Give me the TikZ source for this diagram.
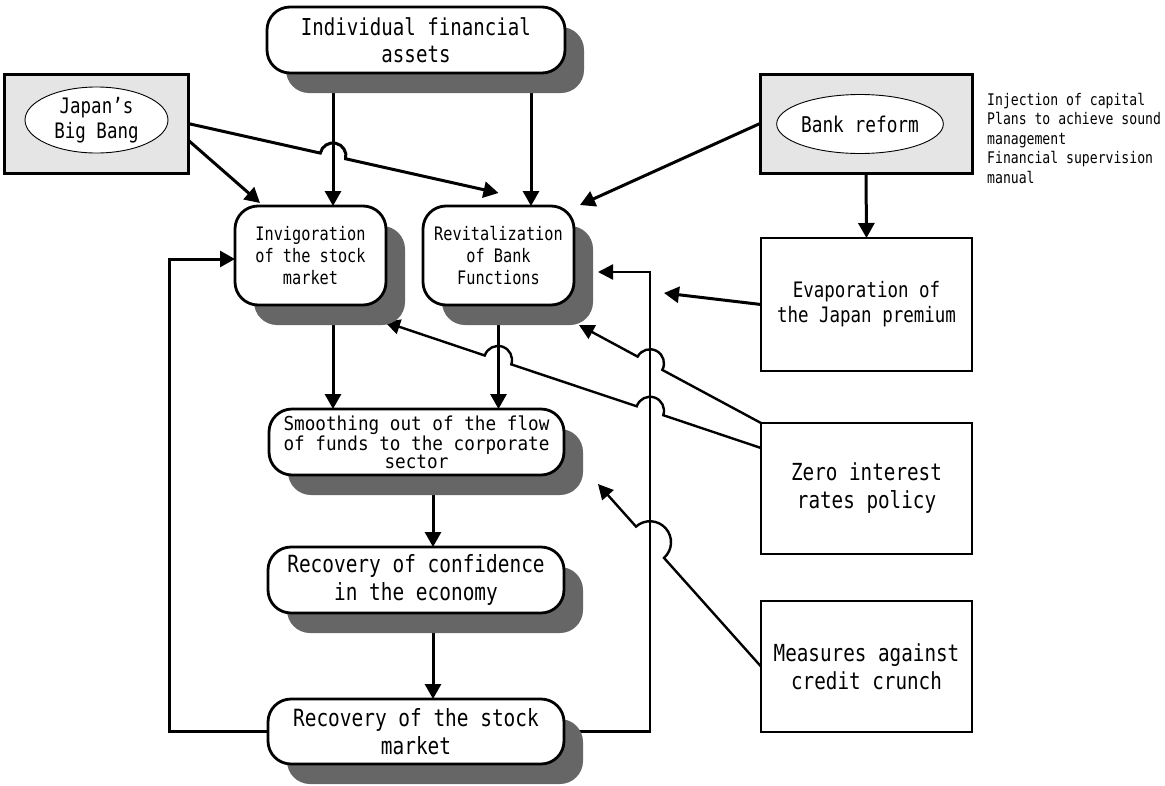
\documentclass[tikz,border=0pt]{standalone}
\usepackage{fontspec}
\usetikzlibrary{arrows.meta,shapes.geometric,shadows,backgrounds}
\newfontfamily\gothic[FakeStretch=0.82]{DejaVu Sans Mono}
\newfontfamily\gothicwide[FakeStretch=0.92]{DejaVu Sans Mono}
\definecolor{shadowgray}{RGB}{102,102,102}
\definecolor{panelgray}{RGB}{229,229,229}

\tikzset{
  flowbox/.style={draw, line width=2.8pt, fill=white, rounded corners=23pt,
    inner sep=0pt, outer sep=0pt, align=center,
    drop shadow={shadow xshift=19pt, shadow yshift=-20pt, opacity=1, fill=shadowgray}},
  plainbox/.style={draw, line width=2.8pt, fill=white, inner sep=0pt, outer sep=0pt, align=center},
  panel/.style={draw, line width=3pt, fill=panelgray, inner sep=0pt, outer sep=0pt},
  oval/.style={ellipse, draw, line width=0.9pt, fill=white, inner sep=0pt, outer sep=0pt, align=center},
  arr/.style={line width=3pt, -{Triangle[length=15pt,width=16pt]}},
  thinarr/.style={line width=2.4pt, -{Triangle[length=15pt,width=15pt]}},
}

\begin{document}
\begin{tikzpicture}[x=1pt,y=-1pt]
\useasboundingbox (0,0) rectangle (1165,785);

% top source
\node[flowbox, minimum width=298pt, minimum height=66pt,
      font=\gothic\fontsize{23.3}{27}\selectfont] (ind) at (416,40) {Individual financial\\assets};

% policy panels
\node[panel, minimum width=184pt, minimum height=99pt] (bangpanel) at (96,123.5) {};
\node[oval, minimum width=143pt, minimum height=66pt,
      font=\gothic\fontsize{21.3}{25}\selectfont] (bang) at (96.5,120) {Japan’s\\Big Bang};
\node[panel, minimum width=212pt, minimum height=99pt] (reformpanel) at (866,123.5) {};
\node[oval, minimum width=164pt, minimum height=59pt,
      font=\gothic\fontsize{21.7}{25}\selectfont] (reform) at (860,124) {Bank reform};
\node[anchor=north west, inner sep=0pt, align=left,
      font=\gothic\fontsize{16}{19.5}\selectfont] (notes) at (987,93)
  {Injection of capital\\Plans to achieve sound\\management\\Financial supervision\\manual};

% central chain
\node[flowbox, minimum width=151pt, minimum height=99pt,
      font=\gothic\fontsize{18.6}{22}\selectfont] (inv) at (310.5,255.5) {Invigoration\\of the stock\\market};
\node[flowbox, minimum width=151pt, minimum height=99pt,
      font=\gothic\fontsize{18.6}{22}\selectfont] (rev) at (498.5,255.5) {Revitalization\\of Bank\\Functions};
\node[flowbox, minimum width=295pt, minimum height=66pt,
      font=\gothicwide\fontsize{19.2}{18}\selectfont] (smo) at (416.5,442)
  {Smoothing out of the flow\\of funds to the corporate\\sector};
\node[flowbox, minimum width=296pt, minimum height=66pt,
      font=\gothic\fontsize{23.7}{27.5}\selectfont] (conf) at (416,580) {Recovery of confidence\\in the economy};
\node[flowbox, minimum width=296pt, minimum height=65pt,
      font=\gothic\fontsize{23.7}{27.5}\selectfont] (stock) at (416,731.5) {Recovery of the stock\\market};

% right-hand factors
\node[plainbox, minimum width=211pt, minimum height=133pt,
      font=\gothic\fontsize{21.3}{25}\selectfont] (evap) at (866.5,304.5) {Evaporation of\\the Japan premium};
\node[plainbox, minimum width=211pt, minimum height=131pt,
      font=\gothic\fontsize{23.5}{28}\selectfont] (zero) at (866.5,488.5) {Zero interest\\rates policy};
\node[plainbox, minimum width=211pt, minimum height=131pt,
      font=\gothic\fontsize{23.5}{28}\selectfont] (credit) at (866.5,666.5) {Measures against\\credit crunch};

% routing columns and arrow end points
\coordinate (colA) at (333,0);
\coordinate (colB) at (531,0);
\coordinate (colC) at (433,0);
\coordinate (colL) at (169,0);
\coordinate (colR) at (650,0);
\coordinate (evapTip) at (664,293);
\coordinate (invIn) at ([yshift=-3.5pt]inv.west);
\coordinate (revIn) at ([xshift=24pt,yshift=-16.5pt]rev.east);
\coordinate (revTop) at ([yshift=13pt]rev.north);
\coordinate (revCorner) at ([xshift=6pt,yshift=1pt]rev.north east);
\coordinate (invCorner) at ([xshift=-50.5pt,yshift=3pt]inv.north);
\coordinate (revLow) at ([xshift=5pt,yshift=-20pt]rev.south east);
\coordinate (invLow) at ([xshift=-1pt,yshift=-17pt]inv.south east);
\coordinate (smoLow) at ([xshift=34pt,yshift=-9pt]smo.south east);
\coordinate (bangLow) at ([yshift=-16.5pt]bangpanel.east);
\coordinate (zeroLow) at ([yshift=-25pt]zero.north west);

\begin{scope}[on background layer]
  % downward flows
  \draw[arr] (ind.south -| colA) -- (inv.north -| colA);
  \draw[arr] (ind.south -| colB) -- (rev.north -| colB);
  \draw[arr] (inv.south -| colA) -- (smo.north -| colA);
  \draw[arr] (rev.south) -- (rev.south |- smo.north);
  \draw[arr] (smo.south -| colC) -- (conf.north -| colC);
  \draw[arr] (conf.south -| colC) -- (stock.north -| colC);

  % Big Bang
  \draw[arr] (bangpanel.east) -- (320.3,153.1)
    arc[start angle=167.38, end angle=-12.62, radius=13pt] -- (revTop);
  \draw[arr] (bangLow) -- (invCorner);

  % bank reform
  \draw[arr] (reformpanel.west) -- (revCorner);
  \draw[arr] (reformpanel.south) -- (evap.north);
  \draw[arr] (evap.west) -- (evapTip);

  % feedback loops
  \draw[arr] (stock.west) -- (stock.west -| colL) -- (invIn -| colL) -- (invIn);
  \draw[thinarr] (stock.east) -- (stock.east -| colR) -- (revIn -| colR) -- (revIn);

  % zero interest rates
  \draw[thinarr] (zero.north west) -- (662.3,369.9)
    arc[start angle=-28.3, end angle=151.7, radius=14pt] -- (revLow);
  \draw[thinarr] (zeroLow) -- (663.3,415.2)
    arc[start angle=-18.53, end angle=161.47, radius=14pt] -- (511.3,364.4)
    arc[start angle=-18.53, end angle=161.47, radius=14pt] -- (invLow);

  % credit crunch measures
  \draw[thinarr] (credit.west) -- (664,557.9)
    arc[start angle=-48.2, end angle=131.8, radius=21pt] -- (smoLow);
\end{scope}
\end{tikzpicture}
\end{document}
